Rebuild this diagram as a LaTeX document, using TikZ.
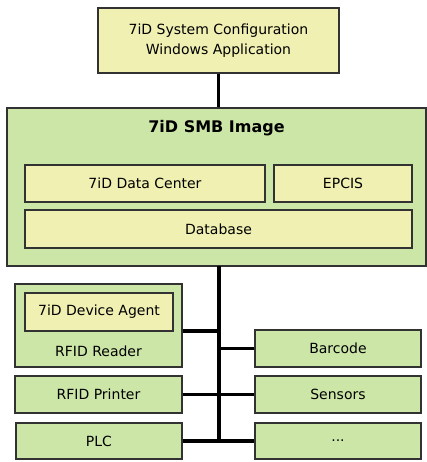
\documentclass[tikz,border=0pt]{standalone}
\usepackage{fontspec}
\setmainfont{DejaVu Sans}
\usepackage{tikz}

\definecolor{boxyellow}{RGB}{240,240,178}
\definecolor{boxgreen}{RGB}{204,230,168}
\definecolor{boxline}{RGB}{50,50,50}

\begin{document}
\begin{tikzpicture}[x=0.75pt,y=-0.75pt,
        font=\fontsize{10.5}{15}\selectfont,
        ybox/.style={shape=rectangle,draw=boxline,fill=boxyellow,line width=0.8pt,inner sep=0pt,align=center},
        gbox/.style={shape=rectangle,draw=boxline,fill=boxgreen,line width=0.8pt,inner sep=0pt,align=center},
        bus/.style={draw=black,line width=2.6pt}]
        \useasboundingbox (0,0) rectangle (427,462);

        \node[ybox,minimum width=180.75pt,minimum height=48.75pt] (cfg) at (218.5,40.5) {7iD System Configuration\\Windows Application};

        \node[gbox,minimum width=314.25pt,minimum height=118.5pt] (smb) at (216.5,187) {};
        \node[font=\fontsize{12}{14}\selectfont\bfseries] (smbt) at (216.5,128) {7iD SMB Image};
        \node[ybox,minimum width=180pt,minimum height=27.75pt] (dc) at (145,183.5) {7iD Data Center};
        \node[ybox,minimum width=103.5pt,minimum height=27.75pt] (epcis) at (343,183.5) {EPCIS};
        \node[ybox,minimum width=290.25pt,minimum height=28.5pt] (db) at (218.5,229) {Database};

        \node[gbox,minimum width=125.25pt,minimum height=62.25pt] (reader) at (98.5,325.5) {};
        \node[ybox,minimum width=111pt,minimum height=28.5pt] (agent) at (99,312) {7iD Device Agent};
        \node (readert) at (98.5,351) {RFID Reader};
        \node[gbox,minimum width=125.25pt,minimum height=27.75pt] (printer) at (98.5,394.5) {RFID Printer};
        \node[gbox,minimum width=124.5pt,minimum height=27pt] (plc) at (99,441) {PLC};

        \node[gbox,minimum width=124.5pt,minimum height=27.75pt] (barcode) at (338,348.5) {Barcode};
        \node[gbox,minimum width=124.5pt,minimum height=27.75pt] (sensors) at (338,394.5) {Sensors};
        \node[gbox,minimum width=124.5pt,minimum height=27pt] (more) at (338,441) {...};

        \coordinate (bustop) at (219,266);
        \coordinate (busbot) at (219,441);
        \coordinate (busreader) at (219,331);

        % links
        \path [bus](cfg.south) -- (cfg.south |- smb.north);
        \path [bus](bustop) -- (busbot);
        \path [bus](reader.east |- busreader) -- (busreader);
        \path [bus](barcode.west) -- (barcode.west -| bustop);
        \path [bus](printer.east) -- (sensors.west);
        \path [bus](plc.east) -- (more.west);
\end{tikzpicture}
\end{document}
